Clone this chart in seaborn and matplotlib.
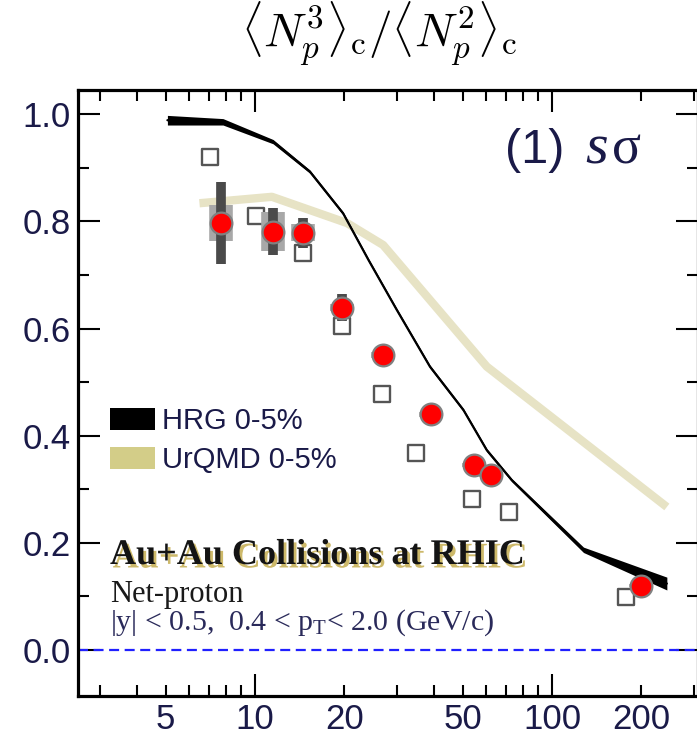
import numpy as np
import pandas as pd
import matplotlib
matplotlib.use("Agg")
import matplotlib.pyplot as plt
import matplotlib.patheffects as pe
import seaborn as sns
from matplotlib.ticker import FixedLocator, FuncFormatter, NullFormatter
from matplotlib.patches import Patch

# ---------------- data ----------------
energies = [7.7, 11.5, 14.5, 19.6, 27, 39, 54.4, 62.4, 200]
s_sigma = [0.797, 0.781, 0.779, 0.639, 0.551, 0.440, 0.345, 0.327, 0.120]
stat_err = [0.076, 0.044, 0.028, 0.025, 0.012, 0.010, 0.008, 0.008, 0.005]
sys_err = [0.034, 0.036, 0.016, 0.006, 0.005, 0.005, 0.004, 0.004, 0.003]

open_x = [7.06, 10.05, 14.47, 19.6, 26.8, 34.7, 53.9, 71.6, 177.4]
open_y = [0.921, 0.810, 0.741, 0.605, 0.477, 0.367, 0.282, 0.257, 0.0995]

hrg_x = [5.07, 7.8, 11.5, 15.3, 19.8, 24.1, 30.0, 38.8, 50.3, 60.3, 73.2, 127.6, 243.5]
hrg_y = [0.989, 0.986, 0.949, 0.893, 0.815, 0.728, 0.635, 0.529, 0.448, 0.373, 0.317, 0.187, 0.124]
hrg_hw = [0.009, 0.006, 0.004, 0.003, 0.003, 0.003, 0.003, 0.003, 0.003, 0.003, 0.003, 0.005, 0.012]

urqmd_x = [6.5, 11.4, 20.4, 27.0, 60.3, 243.5]
urqmd_y = [0.834, 0.846, 0.797, 0.756, 0.529, 0.267]

xtick_labels = [5, 10, 20, 50, 100, 200]
ytick_major = [0.0, 0.2, 0.4, 0.6, 0.8, 1.0]
ytick_minor = [0.1, 0.3, 0.5, 0.7, 0.9]

# ---------------- style ----------------
sns.set_theme(style="ticks")
plt.rcParams["font.family"] = ["Liberation Sans", "DejaVu Sans"]
plt.rcParams["mathtext.fontset"] = "cm"

W, H = 697, 738
fig = plt.figure(figsize=(W / 100, H / 100), dpi=100)
L, R, T, B = 78, 698, 90, 696
ax = fig.add_axes([L / W, (H - B) / H, (R - L) / W, (B - T) / H])

ax.set_xscale("log")
ax.set_xlim(2.535, 310)
ax.set_ylim(-0.0859, 1.0454)

text_col = "#1a1a48"

# UrQMD band
df_u = pd.DataFrame({"x": urqmd_x, "y": urqmd_y})
sns.lineplot(data=df_u, x="x", y="y", ax=ax, color="#e7e3c5", lw=6,
             sort=False, estimator=None, zorder=2, solid_capstyle="butt")

# HRG band
hx = np.array(hrg_x)
hy = np.array(hrg_y)
hw = np.array(hrg_hw)
ax.fill_between(hx, hy - hw, hy + hw, color="black", lw=0, zorder=3)
df_h = pd.DataFrame({"x": hrg_x, "y": hrg_y})
sns.lineplot(data=df_h, x="x", y="y", ax=ax, color="black", lw=1.6,
             sort=False, estimator=None, zorder=3)

# zero line
ax.axhline(0.0, color="#2020ff", lw=1.6, dashes=(4.5, 2.5), zorder=1)

# open squares
df_o = pd.DataFrame({"x": open_x, "y": open_y})
sns.scatterplot(data=df_o, x="x", y="y", ax=ax, marker="s", s=140,
                facecolor="white", edgecolor="#555555", linewidth=1.7, zorder=4)

# error bars
ax.errorbar(energies, s_sigma, yerr=sys_err, fmt="none", ecolor="#a8a8a8",
            elinewidth=17, capsize=0, zorder=5)
ax.errorbar(energies, s_sigma, yerr=stat_err, fmt="none", ecolor="#4a4a4a",
            elinewidth=7, capsize=0, zorder=6)

# data points
df_d = pd.DataFrame({"x": energies, "y": s_sigma})
sns.scatterplot(data=df_d, x="x", y="y", ax=ax, marker="o", s=245,
                color="#ff0000", edgecolor="#808080", linewidth=1.6, zorder=7)

ax.set_xlabel("")
ax.set_ylabel("")

# ticks
ax.xaxis.set_major_locator(FixedLocator([10, 100]))
ax.xaxis.set_minor_locator(FixedLocator([3, 4, 5, 6, 7, 8, 9, 20, 30, 40, 50, 60, 70, 80, 90, 200, 300]))
ax.xaxis.set_major_formatter(FuncFormatter(lambda v, p: f"{int(round(v))}"))
ax.xaxis.set_minor_formatter(FuncFormatter(
    lambda v, p: f"{int(round(v))}" if int(round(v)) in xtick_labels else ""))
ax.yaxis.set_major_locator(FixedLocator(ytick_major))
ax.yaxis.set_minor_locator(FixedLocator(ytick_minor))
ax.yaxis.set_major_formatter(FuncFormatter(lambda v, p: f"{v:.1f}"))
ax.yaxis.set_minor_formatter(NullFormatter())

ax.tick_params(which="both", direction="in", top=True, right=True,
               width=1.5, color="black", labelsize=25, labelcolor=text_col)
ax.tick_params(which="major", length=16, pad=5)
ax.tick_params(which="minor", length=8, pad=5)
ax.tick_params(axis="x", which="minor", labelsize=25)
for sp in ax.spines.values():
    sp.set_linewidth(2.3)
    sp.set_color("black")

# legend
handles = [Patch(facecolor="black", edgecolor="none"),
           Patch(facecolor="#d3cd88", edgecolor="none")]
leg = ax.legend(handles, ["HRG 0-5%", "UrQMD 0-5%"], loc="upper left",
                bbox_to_anchor=(110 / W, 1 - 407 / H), bbox_transform=fig.transFigure,
                frameon=False, fontsize=21, handlelength=1.55, handleheight=0.76,
                handletextpad=0.25, labelspacing=0.38, borderpad=0, borderaxespad=0)
for t in leg.get_texts():
    t.set_color(text_col)

# title
fig.text(379 / W, 1 - 48 / H, r"$\langle N_p^3\rangle_{\rm c}/\langle N_p^2\rangle_{\rm c}$",
         ha="center", va="baseline", fontsize=34, color="black")

# panel label
fig.text(505 / W, 1 - 163 / H, "(1)", ha="left", va="baseline", fontsize=35,
         color=text_col, family="Liberation Sans")
fig.text(585 / W, 1 - 163 / H, "s", ha="left", va="baseline", fontsize=42,
         color=text_col, family="Liberation Serif", style="italic")
fig.text(612 / W, 1 - 163 / H, "σ", ha="left", va="baseline", fontsize=39,
         color=text_col, family="Liberation Serif")

# annotation block
fig.text(110 / W, 1 - 564 / H, "Au+Au Collisions at RHIC", ha="left", va="baseline",
         fontsize=26, weight="bold", color="#141414", family="Liberation Serif",
         path_effects=[pe.withSimplePatchShadow(offset=(2, -2.5), shadow_rgbFace="#cdb96a",
                                                alpha=1.0)])
fig.text(110 / W, 1 - 602 / H, "Net-proton", ha="left", va="baseline",
         fontsize=22, color="#1a1a1a", family="Liberation Serif")
fig.text(110 / W, 1 - 630 / H, r"|y| < 0.5,  0.4 < $\mathregular{p_T}$< 2.0 (GeV/c)",
         ha="left", va="baseline", fontsize=21.5, color="#2a2a5a", family="Liberation Serif")

fig.savefig("out.png", dpi=100)
